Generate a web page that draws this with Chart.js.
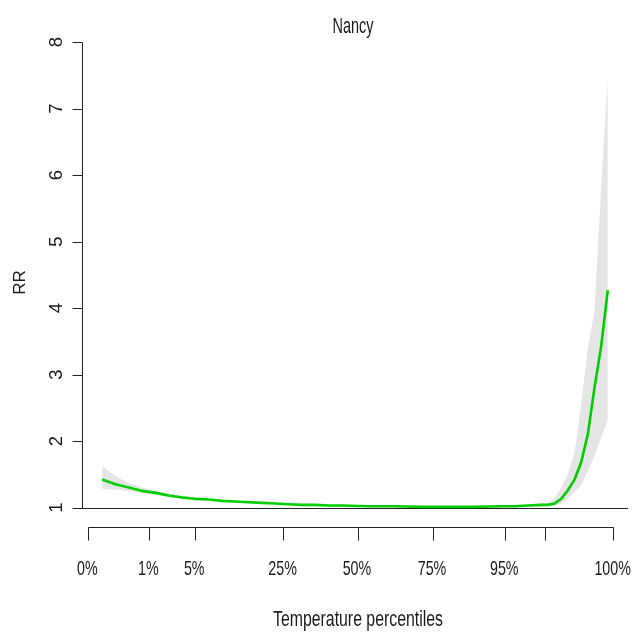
<!DOCTYPE html>
<html>
<head>
<meta charset="utf-8">
<script src="https://cdn.jsdelivr.net/npm/chart.js@4/dist/chart.umd.min.js"></script>
<style>html,body{margin:0;padding:0;background:#fff;}canvas{display:block;}</style>
</head>
<body>
<canvas id="c" width="635" height="632"></canvas>
<script>
// ---- data ----
const chartTitle = 'Nancy';
const xTitle = 'Temperature percentiles';
const yTitle = 'RR';
const temps  = [-10,-9,-8,-7,-6,-5,-4,-3,-2,-1,0,1,2,3,4,5,6,7,8,10,12,14,16,18,20,21,22,23,23.5,24,24.5,25,25.5,26,26.5,27,27.5,28];
const rr     = [1.42,1.35,1.30,1.25,1.22,1.18,1.15,1.13,1.12,1.10,1.09,1.08,1.07,1.06,1.05,1.04,1.04,1.03,1.03,1.02,1.02,1.01,1.01,1.01,1.02,1.02,1.03,1.04,1.04,1.06,1.13,1.26,1.42,1.68,2.10,2.80,3.42,4.27];
const rrHigh = [1.62,1.47,1.37,1.30,1.26,1.21,1.18,1.15,1.14,1.12,1.10,1.09,1.08,1.07,1.06,1.05,1.05,1.04,1.04,1.03,1.03,1.02,1.02,1.02,1.03,1.03,1.04,1.06,1.07,1.14,1.30,1.50,1.82,2.55,3.40,3.95,5.80,7.45];
const rrLow  = [1.28,1.27,1.25,1.22,1.19,1.16,1.14,1.12,1.11,1.09,1.08,1.07,1.06,1.05,1.04,1.03,1.03,1.02,1.02,1.01,1.01,1.00,1.00,1.00,1.01,1.01,1.02,1.02,1.02,1.02,1.06,1.13,1.24,1.34,1.55,1.78,2.05,2.32];
const yTickValues = [1,2,3,4,5,6,7,8];
const yTickLabels = ['1','2','3','4','5','6','7','8'];
const pctTickTemps  = [-11.07,-6.48,-3.03,3.61,9.20,14.84,20.27,23.28,28.42];
const pctTickLabels = ['0%','1%','5%','25%','50%','75%','95%','','100%'];

const FONT = '"Liberation Sans", Arial, sans-serif';
const INK = '#1a1a1a';

function toPts(ys){ return temps.map((t,i)=>({x:t,y:ys[i]})); }

function drawFit(ctx, text, cx, base, size, scaleX){
  ctx.save();
  ctx.font = size + 'px ' + FONT;
  ctx.translate(cx, base);
  ctx.scale(scaleX, 1);
  ctx.textAlign = 'center';
  ctx.textBaseline = 'alphabetic';
  ctx.fillText(text, 0, 0);
  ctx.restore();
}
function drawToWidth(ctx, text, cx, base, size, targetW){
  ctx.save();
  ctx.font = size + 'px ' + FONT;
  const w = ctx.measureText(text).width;
  ctx.restore();
  drawFit(ctx, text, cx, base, size, targetW / w);
}

const rAxes = {
  id: 'rAxes',
  beforeDatasetsDraw(chart){
    const {ctx, chartArea, scales:{x, y}} = chart;
    ctx.save();
    ctx.strokeStyle = '#222';
    ctx.lineWidth = 1;
    const y1 = Math.round(y.getPixelForValue(1)) + 0.5;
    ctx.beginPath();
    ctx.moveTo(chartArea.left, y1);
    ctx.lineTo(chartArea.right, y1);
    ctx.stroke();
    ctx.restore();
  },
  afterDraw(chart){
    const {ctx, chartArea, scales:{x, y}} = chart;
    ctx.save();
    ctx.strokeStyle = '#222';
    ctx.fillStyle = INK;
    ctx.lineWidth = 1;
    // left axis
    const ax = chartArea.left + 0.5;
    const yTop = Math.round(y.getPixelForValue(yTickValues[yTickValues.length-1])) + 0.5;
    const yBot = Math.round(y.getPixelForValue(yTickValues[0])) + 0.5;
    ctx.beginPath();
    ctx.moveTo(ax, yTop); ctx.lineTo(ax, yBot);
    yTickValues.forEach(v => {
      const py = Math.round(y.getPixelForValue(v)) + 0.5;
      ctx.moveTo(ax, py); ctx.lineTo(ax - 10, py);
    });
    ctx.stroke();
    ctx.font = '18.5px ' + FONT;
    ctx.textAlign = 'center';
    ctx.textBaseline = 'alphabetic';
    yTickValues.forEach((v, i) => {
      const py = y.getPixelForValue(v);
      ctx.save();
      ctx.translate(62, py);
      ctx.rotate(-Math.PI/2);
      ctx.fillText(yTickLabels[i], 0, 0);
      ctx.restore();
    });
    // y title
    ctx.save();
    ctx.font = '17px ' + FONT;
    ctx.translate(25, 282.5);
    ctx.rotate(-Math.PI/2);
    ctx.fillText(yTitle, 0, 0);
    ctx.restore();

    // bottom percentile axis
    const by = chartArea.bottom + 0.5;
    const bx0 = Math.round(x.getPixelForValue(pctTickTemps[0])) + 0.5;
    const bx1 = Math.round(x.getPixelForValue(pctTickTemps[pctTickTemps.length-1])) + 0.5;
    ctx.beginPath();
    ctx.moveTo(bx0, by); ctx.lineTo(bx1, by);
    pctTickTemps.forEach(t => {
      const px = Math.round(x.getPixelForValue(t)) + 0.5;
      ctx.moveTo(px, by); ctx.lineTo(px, by + 13);
    });
    ctx.stroke();
    pctTickTemps.forEach((t, i) => {
      if (!pctTickLabels[i]) return;
      const px = x.getPixelForValue(t) - 0.7;
      drawFit(ctx, pctTickLabels[i], px, 575, 21, 0.68);
    });
    // titles
    drawToWidth(ctx, xTitle, 358, 626, 22, 170);
    drawToWidth(ctx, chartTitle, 353, 33.3, 22, 41);
    ctx.restore();
  }
};

new Chart(document.getElementById('c'), {
  type: 'line',
  data: {
    datasets: [
      { label: 'RR', data: toPts(rr), borderColor: '#00CD00', borderWidth: 2.6, pointRadius: 0, fill: false, tension: 0 },
      { label: 'upper', data: toPts(rrHigh), borderColor: 'rgba(0,0,0,0)', borderWidth: 0, pointRadius: 0, fill: '+1', backgroundColor: '#E5E5E5', tension: 0 },
      { label: 'lower', data: toPts(rrLow), borderColor: 'rgba(0,0,0,0)', borderWidth: 0, pointRadius: 0, fill: false, tension: 0 }
    ]
  },
  options: {
    responsive: false,
    animation: false,
    devicePixelRatio: 1,
    layout: { padding: { left: 82, right: 7, top: 23, bottom: 105 } },
    scales: {
      x: { type: 'linear', min: -11.52, max: 29.52, display: false },
      y: { type: 'linear', min: 0.707, max: 8.286, display: false }
    },
    plugins: { legend: { display: false }, tooltip: { enabled: false }, title: { display: false } },
    events: []
  },
  plugins: [rAxes]
});
</script>
</body>
</html>
